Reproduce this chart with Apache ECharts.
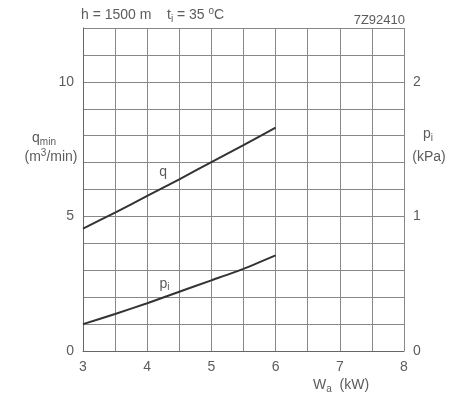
<!DOCTYPE html>
<html><head><meta charset="utf-8">
<script src="https://cdn.jsdelivr.net/npm/echarts@6/dist/echarts.min.js"></script>
<style>html,body{margin:0;padding:0;background:#fff}#c{width:457px;height:400px}</style>
</head><body><div id="c"></div>
<script>
// Data
const powerKW = [3, 3.5, 4, 4.5, 5, 5.5, 6];
const qMin = [4.55, 5.14, 5.76, 6.38, 7.02, 7.65, 8.3];      // m3/min (left axis)
const pI = [0.2, 0.275, 0.355, 0.44, 0.525, 0.61, 0.71];       // kPa (right axis)
const leftTickLabels = [0, 5, 10];
const rightTickLabels = [0, 1, 2];
const xTickLabels = [3, 4, 5, 6, 7, 8];

const txt = '#5c5c5c';
const font = 'Liberation Sans';
const chart = echarts.init(document.getElementById('c'), null, {renderer: 'canvas'});
const option = {
  animation: false,
  backgroundColor: '#fff',
  textStyle: {fontFamily: font},
  grid: {left: 83, right: 53, top: 28, bottom: 49, containLabel: false},
  xAxis: {
    type: 'value', min: 3, max: 8, interval: 0.5,
    axisLine: {show: true, onZero: false, lineStyle: {color: '#666', width: 1}},
    axisTick: {show: false},
    splitLine: {show: true, lineStyle: {color: '#888', width: 1}},
    axisLabel: {color: txt, fontSize: 14, fontFamily: font, margin: 9,
      formatter: v => xTickLabels.includes(v) ? String(v) : ''},
  },
  yAxis: [{
    type: 'value', min: 0, max: 12, interval: 1,
    axisLine: {show: true, lineStyle: {color: '#666'}},
    axisTick: {show: false},
    splitLine: {show: true, lineStyle: {color: '#888', width: 1}},
    axisLabel: {color: txt, fontSize: 14, fontFamily: font, margin: 9,
      formatter: v => leftTickLabels.includes(v) ? String(v) : ''},
  }, {
    type: 'value', min: 0, max: 2.4, interval: 0.2,
    axisLine: {show: false},
    axisTick: {show: false},
    splitLine: {show: false},
    axisLabel: {color: txt, fontSize: 14, fontFamily: font, margin: 9,
      formatter: v => rightTickLabels.some(t => Math.abs(t - v) < 1e-6) ? String(Math.round(v)) : ''},
  }],
  series: [{
    type: 'line', yAxisIndex: 0, smooth: 0.15, symbol: 'none',
    data: powerKW.map((x, i) => [x, qMin[i]]),
    lineStyle: {color: '#333', width: 2}
  }, {
    type: 'line', yAxisIndex: 1, smooth: 0.15, symbol: 'none',
    data: powerKW.map((x, i) => [x, pI[i]]),
    lineStyle: {color: '#333', width: 2}
  }]
};
chart.setOption(option);

const qPos = chart.convertToPixel({xAxisIndex: 0, yAxisIndex: 0}, [4.25, 6.65]);
const pPos = chart.convertToPixel({xAxisIndex: 0, yAxisIndex: 1}, [4.27, 0.5]);
const rich = {
  n: {fontSize: 14, fill: txt, fontFamily: font},
  s: {fontSize: 10, fill: txt, fontFamily: font, padding: [8, 0, 0, 0]},
  sup: {fontSize: 10, fill: txt, fontFamily: font, padding: [0, 0, 8, 0]}
};
function t(x, y, text, align, extra) {
  return {type: 'text', x: x, y: y, style: Object.assign({text: text, align: align || 'left', verticalAlign: 'middle', rich: rich, fontFamily: font, fill: txt, fontSize: 14}, extra || {})};
}
chart.setOption({graphic: [
  t(81, 15, '{n|h = 1500 m    t}{s|i}{n| = 35 }{sup|o}{n|C}', 'left'),
  t(405, 20, '7Z92410', 'right', {fontSize: 13}),
  t(44, 138, '{n|q}{s|min}', 'center'),
  t(51, 157, '{n|(m}{sup|3}{n|/min)}', 'center'),
  t(428, 134, '{n|p}{s|i}', 'center'),
  t(429, 157, '(kPa)', 'center', {fontSize: 14}),
  t(341, 385, '{n|W}{s|a}{n|  (kW)}', 'center'),
  t(qPos[0], qPos[1], 'q', 'center'),
  t(pPos[0], pPos[1], '{n|p}{s|i}', 'center')
]});
</script></body></html>
